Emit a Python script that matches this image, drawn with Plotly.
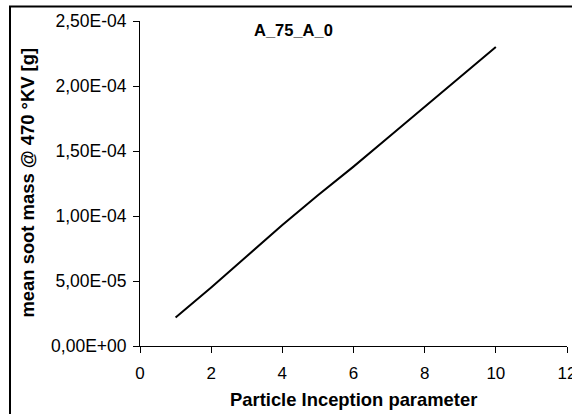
import plotly.graph_objects as go

# Mean soot mass versus particle inception parameter (case A_75_A_0)
inception_param = [1, 2, 3, 4, 5, 6, 7, 8, 9, 10]
soot_mass = [2.2e-5, 4.5e-5, 6.9e-5, 9.3e-5, 1.16e-4, 1.38e-4, 1.61e-4, 1.84e-4, 2.07e-4, 2.30e-4]

y_tick_vals = [0, 5e-5, 1e-4, 1.5e-4, 2e-4, 2.5e-4]
y_tick_text = ["0,00E+00", "5,00E-05", "1,00E-04", "1,50E-04", "2,00E-04", "2,50E-04"]
x_tick_vals = [0, 2, 4, 6, 8, 10, 12]

FONT = "Liberation Sans, Arial, sans-serif"

fig = go.Figure(
    go.Scatter(
        x=inception_param,
        y=soot_mass,
        mode="lines",
        line=dict(color="black", width=2),
        showlegend=False,
    )
)

W, H = 572, 414
ML, MR, MT, MB = 140, 5, 21, 68
pw, ph = W - ML - MR, H - MT - MB


def px_x(px):
    return (px - ML) / pw


def px_y(py):
    return (H - MB - py) / ph


fig.update_layout(
    width=W,
    height=H,
    margin=dict(l=ML, r=MR, t=MT, b=MB, autoexpand=False),
    paper_bgcolor="white",
    plot_bgcolor="white",
    font=dict(family=FONT, color="black", size=16),
    xaxis=dict(
        range=[0, 12],
        tickvals=x_tick_vals,
        ticks="outside",
        ticklen=6,
        tickcolor="black",
        showline=True,
        linecolor="black",
        linewidth=1,
        showgrid=False,
        zeroline=False,
        automargin=False,
        tickfont=dict(family=FONT, size=17, color="black"),
        ticklabelstandoff=6,
        ticklabeloverflow="allow",
    ),
    yaxis=dict(
        range=[0, 2.5e-4],
        tickvals=y_tick_vals,
        ticktext=y_tick_text,
        ticks="outside",
        ticklen=6,
        tickcolor="black",
        showline=True,
        linecolor="black",
        linewidth=1,
        showgrid=False,
        zeroline=False,
        automargin=False,
        tickfont=dict(family=FONT, size=17.5, color="black"),
        ticklabelstandoff=3,
        ticklabeloverflow="allow",
    ),
    annotations=[
        dict(
            text="<b>A_75_A_0</b>",
            xref="paper", yref="paper",
            x=px_x(293), y=px_y(30),
            xanchor="center", yanchor="middle",
            showarrow=False,
            font=dict(size=16.5),
        ),
        dict(
            text="<b>Particle Inception parameter</b>",
            xref="paper", yref="paper",
            x=0.5, y=px_y(399),
            xanchor="center", yanchor="middle",
            showarrow=False,
            font=dict(size=18.4),
        ),
        dict(
            text="<b>mean soot mass @ 470 °KV [g]</b>",
            xref="paper", yref="paper",
            x=px_x(27), y=px_y(182.5),
            xanchor="center", yanchor="middle",
            textangle=-90,
            showarrow=False,
            font=dict(size=18.4),
        ),
    ],
    shapes=[
        dict(
            type="rect",
            xref="paper", yref="paper",
            x0=px_x(10), x1=px_x(580),
            y0=px_y(420), y1=px_y(6.5),
            line=dict(color="black", width=2),
            fillcolor="rgba(0,0,0,0)",
            layer="above",
        )
    ],
)

fig.write_html("out.html")
